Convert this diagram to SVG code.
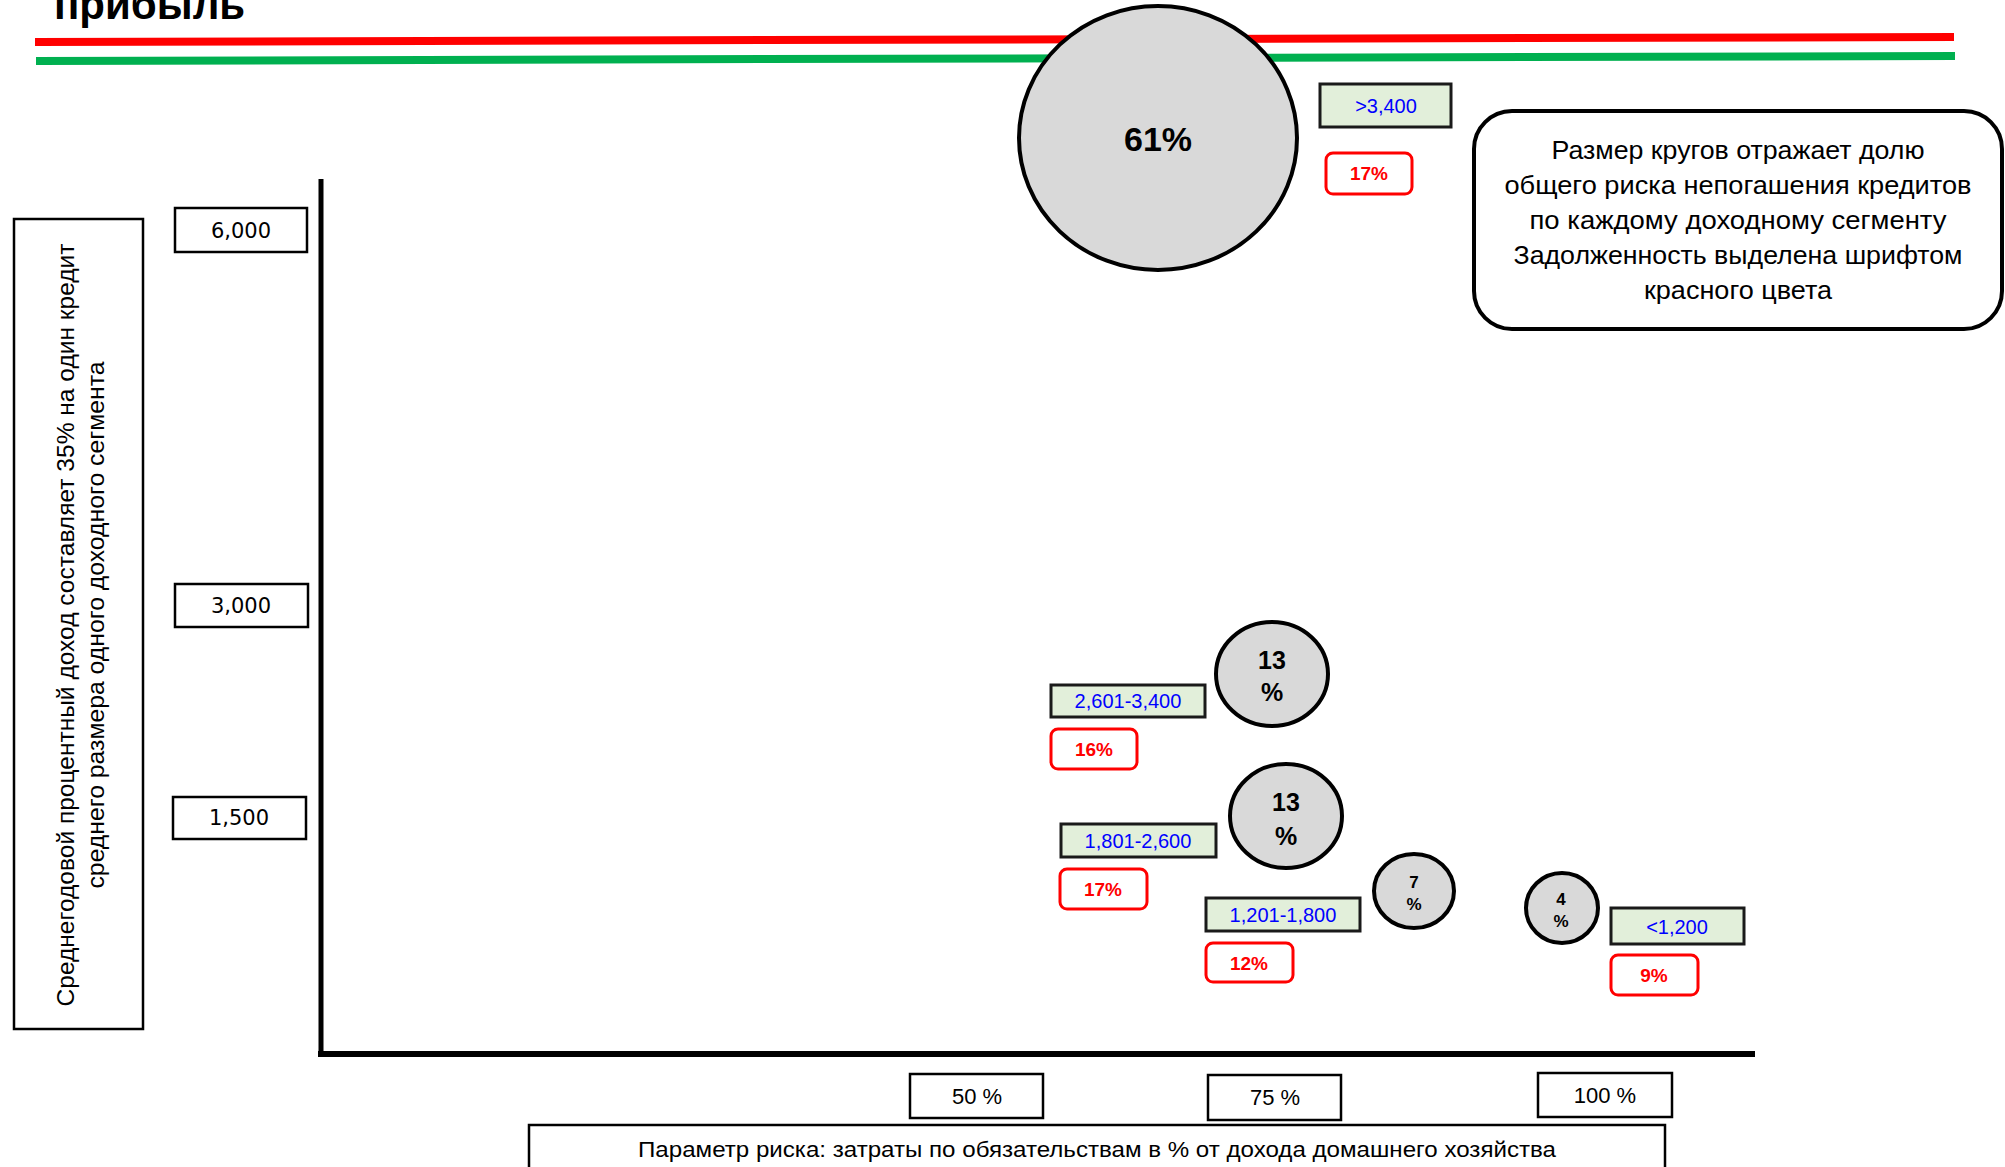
<svg xmlns="http://www.w3.org/2000/svg" width="2005" height="1167" viewBox="0 0 2005 1167">
<style>
.bubble{fill:#d9d9d9;stroke:#000;stroke-width:4}
.seg{fill:#e2efda;stroke:#1a1a1a;stroke-width:3}
.segt{font-family:"Liberation Sans",Arial,sans-serif;font-size:20px;fill:#0000ff;text-anchor:middle}
.debt{fill:#fff;stroke:#ff0000;stroke-width:3}
.debtt{font-family:"Liberation Sans",Arial,sans-serif;font-size:19px;font-weight:bold;fill:#ff0000;text-anchor:middle}
.bt{font-family:"Liberation Sans",Arial,sans-serif;font-weight:bold;fill:#000;text-anchor:middle}
.tick{fill:#fff;stroke:#000;stroke-width:2.5}
.ytt{font-family:"DejaVu Sans",Verdana,sans-serif;font-size:21px;fill:#000;text-anchor:middle}
.xtt{font-family:"Liberation Sans",Arial,sans-serif;font-size:22px;fill:#000;text-anchor:middle}
.lab{font-family:"Liberation Sans",Arial,sans-serif;fill:#000;text-anchor:middle}
</style>
<rect width="2005" height="1167" fill="#fff"/>
<text x="54" y="19" font-family="Liberation Sans,Arial,sans-serif" font-size="42" font-weight="bold" fill="#000">прибыль</text>
<g id="header-lines">
<line x1="35" y1="42" x2="1954" y2="37" stroke="#ff0000" stroke-width="8"/>
<line x1="36" y1="61" x2="1955" y2="56" stroke="#00b050" stroke-width="8"/>
</g>
<g id="axes">
<line x1="321" y1="179" x2="321" y2="1056" stroke="#000" stroke-width="5"/>
<line x1="318" y1="1054" x2="1755" y2="1054" stroke="#000" stroke-width="6"/>
</g>
<g id="y-label">
<rect x="14" y="219" width="129" height="810" fill="#fff" stroke="#000" stroke-width="2.5"/>
<text class="lab" font-size="23" transform="translate(74,625) rotate(-90)" textLength="763" lengthAdjust="spacingAndGlyphs">Среднегодовой процентный доход составляет 35% на один кредит</text>
<text class="lab" font-size="23" transform="translate(104,625) rotate(-90)" textLength="527" lengthAdjust="spacingAndGlyphs">среднего размера одного доходного сегмента</text>
</g>
<g id="ytick-6000"><rect class="tick" x="175" y="208" width="132" height="44"/><text class="ytt" x="241" y="238">6,000</text></g>
<g id="ytick-3000"><rect class="tick" x="175" y="584" width="133" height="43"/><text class="ytt" x="241" y="613">3,000</text></g>
<g id="ytick-1500"><rect class="tick" x="173" y="797" width="133" height="42"/><text class="ytt" x="239" y="825">1,500</text></g>
<g id="xtick-50"><rect class="tick" x="910" y="1074" width="133" height="44"/><text class="xtt" x="977" y="1104">50 %</text></g>
<g id="xtick-75"><rect class="tick" x="1208" y="1075" width="133" height="45"/><text class="xtt" x="1275" y="1105">75 %</text></g>
<g id="xtick-100"><rect class="tick" x="1538" y="1073" width="134" height="44"/><text class="xtt" x="1605" y="1103">100 %</text></g>
<g id="x-label">
<rect x="529" y="1125" width="1136" height="50" fill="#fff" stroke="#000" stroke-width="2.5"/>
<text class="lab" font-size="22" x="1097" y="1157" textLength="918" lengthAdjust="spacingAndGlyphs">Параметр риска: затраты по обязательствам в % от дохода домашнего хозяйства</text>
</g>
<g id="legend">
<rect x="1474" y="111" width="528" height="218" rx="38" fill="#fff" stroke="#000" stroke-width="4"/>
<text class="lab" font-size="25" x="1738" y="159" textLength="373" lengthAdjust="spacingAndGlyphs">Размер кругов отражает долю</text>
<text class="lab" font-size="25" x="1738" y="194" textLength="467" lengthAdjust="spacingAndGlyphs">общего риска непогашения кредитов</text>
<text class="lab" font-size="25" x="1738" y="229" textLength="417" lengthAdjust="spacingAndGlyphs">по каждому доходному сегменту</text>
<text class="lab" font-size="25" x="1738" y="264" textLength="449" lengthAdjust="spacingAndGlyphs">Задолженность выделена шрифтом</text>
<text class="lab" font-size="25" x="1738" y="299" textLength="188" lengthAdjust="spacingAndGlyphs">красного цвета</text>
</g>
<g id="seg-gt3400">
<ellipse class="bubble" cx="1158" cy="138" rx="139" ry="132"/>
<text class="bt" font-size="34" x="1158" y="151">61%</text>
<rect class="seg" x="1320" y="84" width="131" height="43"/>
<text class="segt" x="1386" y="113">&gt;3,400</text>
<rect class="debt" x="1326" y="153" width="86" height="41" rx="7"/>
<text class="debtt" x="1369" y="180">17%</text>
</g>
<g id="seg-2601-3400">
<ellipse class="bubble" cx="1272" cy="674" rx="56" ry="52"/>
<text class="bt" font-size="25" x="1272" y="669">13</text>
<text class="bt" font-size="25" x="1272" y="701">%</text>
<rect class="seg" x="1051" y="685" width="154" height="32"/>
<text class="segt" x="1128" y="708">2,601-3,400</text>
<rect class="debt" x="1051" y="729" width="86" height="40" rx="7"/>
<text class="debtt" x="1094" y="756">16%</text>
</g>
<g id="seg-1801-2600">
<ellipse class="bubble" cx="1286" cy="816" rx="56" ry="52"/>
<text class="bt" font-size="25" x="1286" y="811">13</text>
<text class="bt" font-size="25" x="1286" y="845">%</text>
<rect class="seg" x="1061" y="824" width="155" height="33"/>
<text class="segt" x="1138" y="848">1,801-2,600</text>
<rect class="debt" x="1060" y="869" width="87" height="40" rx="7"/>
<text class="debtt" x="1103" y="896">17%</text>
</g>
<g id="seg-1201-1800">
<ellipse class="bubble" cx="1414" cy="891" rx="40" ry="37"/>
<text class="bt" font-size="17" x="1414" y="888">7</text>
<text class="bt" font-size="17" x="1414" y="910">%</text>
<rect class="seg" x="1206" y="898" width="154" height="33"/>
<text class="segt" x="1283" y="922">1,201-1,800</text>
<rect class="debt" x="1206" y="943" width="87" height="39" rx="7"/>
<text class="debtt" x="1249" y="970">12%</text>
</g>
<g id="seg-lt1200">
<ellipse class="bubble" cx="1562" cy="908" rx="36" ry="35"/>
<text class="bt" font-size="17" x="1561" y="905">4</text>
<text class="bt" font-size="17" x="1561" y="927">%</text>
<rect class="seg" x="1611" y="908" width="133" height="36"/>
<text class="segt" x="1677" y="934">&lt;1,200</text>
<rect class="debt" x="1611" y="955" width="87" height="40" rx="7"/>
<text class="debtt" x="1654" y="982">9%</text>
</g>
</svg>
